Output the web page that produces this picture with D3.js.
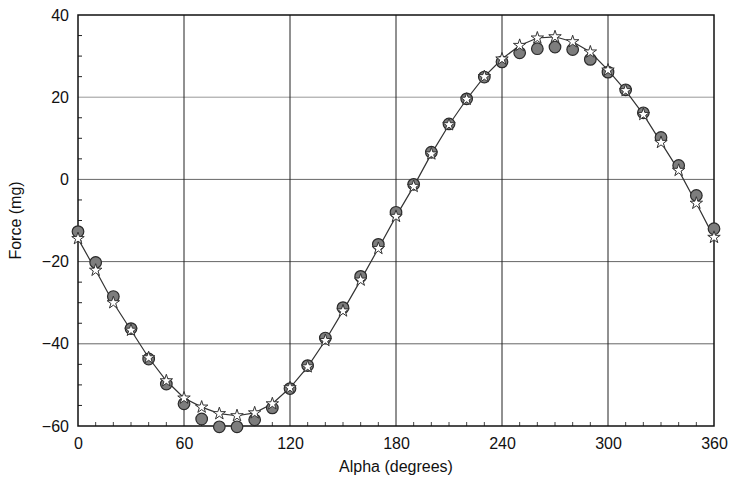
<!DOCTYPE html>
<html>
<head>
<meta charset="utf-8">
<script src="https://cdn.jsdelivr.net/npm/d3@7"></script>
<style>
  html, body { margin: 0; padding: 0; background: #fff; }
  svg { display: block; }
  text { font-family: "Liberation Sans", Arial, sans-serif; fill: #111; }
</style>
</head>
<body>
<svg id="chart" width="730" height="479"></svg>
<script>
// ---- data ----
const alpha = [0,10,20,30,40,50,60,70,80,90,100,110,120,130,140,150,160,170,180,
               190,200,210,220,230,240,250,260,270,280,290,300,310,320,330,340,350,360];
const measured = [-12.7,-20.2,-28.5,-36.3,-43.7,-49.8,-54.6,-58.3,-60.2,-60.2,-58.5,-55.6,
                  -50.9,-45.3,-38.6,-31.2,-23.6,-15.8,-8.0,-1.2,6.6,13.5,19.6,24.9,28.6,
                  30.8,31.8,32.2,31.6,29.2,26.1,21.8,16.2,10.2,3.4,-3.9,-12.0];
const model = [-14.4,-22.1,-30.0,-36.7,-43.4,-49.0,-53.2,-55.4,-57.0,-57.5,-56.8,-54.6,
               -50.7,-45.6,-39.2,-32.0,-24.5,-16.8,-9.0,-1.7,6.2,13.3,19.5,25.0,29.3,
               32.6,34.4,34.7,33.5,31.0,26.6,21.6,15.8,9.0,2.2,-5.8,-14.1];
const xTicks = [0,60,120,180,240,300,360];
const yTicks = [-60,-40,-20,0,20,40];
const xMinor = [10,20,30,40,50,70,80,90,100,110,130,140,150,160,170,190,200,210,220,230,
                250,260,270,280,290,310,320,330,340,350];
const yMinor = [-55,-50,-45,-35,-30,-25,-15,-10,-5,5,10,15,25,30,35];
const xLabel = "Alpha (degrees)";
const yLabel = "Force (mg)";

// ---- layout ----
const svg = d3.select("#chart");
const L = 78, R = 714, T = 15, B = 426;
const x = d3.scaleLinear().domain([0, 360]).range([L, R]);
const y = d3.scaleLinear().domain([-60, 40]).range([B, T]);

// grid lines
svg.append("g").selectAll("line").data(yTicks.filter(v => v > -60 && v < 40)).join("line")
  .attr("x1", L).attr("x2", R).attr("y1", d => y(d)).attr("y2", d => y(d))
  .attr("stroke", d => d === 20 ? "#999" : "#666").attr("stroke-width", 1);
svg.append("g").selectAll("line").data(xTicks.filter(v => v > 0 && v < 360)).join("line")
  .attr("y1", T).attr("y2", B).attr("x1", d => x(d)).attr("x2", d => x(d))
  .attr("stroke", "#222").attr("stroke-width", 1);

// axes (labels, ticks pointing inward)
const xAxis = d3.axisBottom(x).tickValues(xTicks).tickSize(0).tickPadding(12).tickFormat(d3.format("d"));
const gx = svg.append("g").attr("transform", `translate(0,${B})`).call(xAxis);
gx.select(".domain").remove();
gx.selectAll("text").style("font-size", "16px").attr("fill", "#111")
  .style("font-family", "'Liberation Sans', Arial, sans-serif");

const yAxis = d3.axisLeft(y).tickValues(yTicks).tickSize(0).tickPadding(9)
  .tickFormat(d => d < 0 ? "\u2212" + Math.abs(d) : String(d));
const gy = svg.append("g").attr("transform", `translate(${L},0)`).call(yAxis);
gy.select(".domain").remove();
gy.selectAll("text").style("font-size", "16px").attr("fill", "#111")
  .style("font-family", "'Liberation Sans', Arial, sans-serif");

// minor ticks inside
svg.append("g").selectAll("line").data(yMinor).join("line")
  .attr("x1", L).attr("x2", L + 4).attr("y1", d => y(d)).attr("y2", d => y(d))
  .attr("stroke", "#222").attr("stroke-width", 1);
svg.append("g").selectAll("line").data(xMinor).join("line")
  .attr("y1", B).attr("y2", B - 4).attr("x1", d => x(d)).attr("x2", d => x(d))
  .attr("stroke", "#444").attr("stroke-width", 1);

// frame
svg.append("rect").attr("x", L).attr("y", T).attr("width", R - L).attr("height", B - T)
  .attr("fill", "none").attr("stroke", "#111").attr("stroke-width", 1.5);

// model line
const pts = alpha.map((a, i) => ({a, m: measured[i], s: model[i]}));
svg.append("path").datum(pts)
  .attr("d", d3.line().x(d => x(d.a)).y(d => y(d.s)))
  .attr("fill", "none").attr("stroke", "#333").attr("stroke-width", 1.2);

// measured circles
svg.append("g").selectAll("circle").data(pts).join("circle")
  .attr("cx", d => x(d.a)).attr("cy", d => y(d.m)).attr("r", 5.8)
  .attr("fill", "#7d7d7d").attr("stroke", "#2a2a2a").attr("stroke-width", 1.2);

// model stars
const star = d3.symbol().type(d3.symbolStar).size(48);
svg.append("g").selectAll("path").data(pts).join("path")
  .attr("transform", d => `translate(${x(d.a)},${y(d.s)})`)
  .attr("d", star)
  .attr("fill", "#fff").attr("stroke", "#333").attr("stroke-width", 1);

// axis titles
svg.append("text").attr("x", (L + R) / 2).attr("y", 472).attr("text-anchor", "middle")
  .style("font-size", "16px").text(xLabel);
svg.append("text").attr("transform", `translate(21,${(T + B) / 2}) rotate(-90)`)
  .attr("text-anchor", "middle").style("font-size", "16px").text(yLabel);
</script>
</body>
</html>
